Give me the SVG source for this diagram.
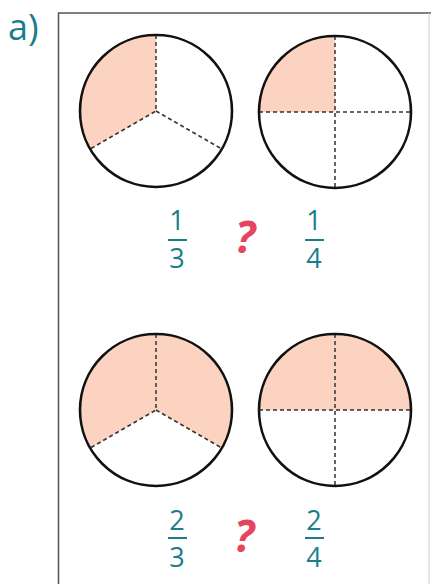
<svg xmlns="http://www.w3.org/2000/svg" width="431" height="584" viewBox="0 0 431 584">
<style>
.bg{fill:#ffffff}
.frame{fill:none;stroke:#555;stroke-width:1.5}
.frame2{fill:none;stroke:#ccc;stroke-width:1}
.shade{fill:#fcd3c1;stroke:none}
.circ{fill:none;stroke:#111;stroke-width:2.6}
.dash{fill:none;stroke:#333;stroke-width:1.5;stroke-dasharray:4 3}
.num{font-family:"Open Sans","Noto Sans",sans-serif;font-size:27px;font-weight:500;fill:#1b7d8c;text-anchor:middle}
.bar{stroke:#1b7d8c;stroke-width:2}
.q{font-family:"Open Sans","Noto Sans",sans-serif;font-size:44px;font-weight:bold;font-style:italic;fill:#e64560;text-anchor:middle}
.lab{font-family:"Open Sans","Noto Sans",sans-serif;font-size:36px;fill:#1b7d8c}
</style>
<rect class="bg" x="0" y="0" width="431" height="584"/>
<text class="lab" x="8" y="40">a)</text>
<path class="frame" d="M58.5,584 V13 H431"/>
<line class="frame2" x1="429" y1="13" x2="429" y2="584"/>

<g id="circle-1-3">
<path class="shade" d="M156,111 L156,35 A76,76 0 0 0 90.2,149 Z"/>
<path class="dash" d="M156,35 L156,111 L90.2,149 M156,111 L221.8,149"/>
<circle class="circ" cx="156" cy="111" r="76"/>
</g>
<g id="circle-1-4">
<path class="shade" d="M335,112 L335,36 A76,76 0 0 0 259,112 Z"/>
<path class="dash" d="M335,36 V188 M259,112 H411"/>
<circle class="circ" cx="335" cy="112" r="76"/>
</g>
<g id="circle-2-3">
<path class="shade" d="M156,410 L90.2,448 A76,76 0 1 1 221.8,448 Z"/>
<path class="dash" d="M156,334 L156,410 L90.2,448 M156,410 L221.8,448"/>
<circle class="circ" cx="156" cy="410" r="76"/>
</g>
<g id="circle-2-4">
<path class="shade" d="M259,410 A76,76 0 0 1 411,410 Z"/>
<path class="dash" d="M335,334 V486 M259,410 H411"/>
<circle class="circ" cx="335" cy="410" r="76"/>
</g>

<g id="frac-1-3">
<text class="num" x="177" y="230">1</text>
<line class="bar" x1="168" y1="240" x2="187" y2="240"/>
<text class="num" x="177" y="268">3</text>
</g>
<g id="q-1"><text class="q" x="245" y="253">?</text></g>
<g id="frac-1-4">
<text class="num" x="314" y="230">1</text>
<line class="bar" x1="305" y1="240" x2="324" y2="240"/>
<text class="num" x="314" y="268">4</text>
</g>

<g id="frac-2-3">
<text class="num" x="177" y="530">2</text>
<line class="bar" x1="168" y1="538" x2="187" y2="538"/>
<text class="num" x="177" y="567">3</text>
</g>
<g id="q-2"><text class="q" x="244" y="552">?</text></g>
<g id="frac-2-4">
<text class="num" x="314" y="530">2</text>
<line class="bar" x1="305" y1="538" x2="324" y2="538"/>
<text class="num" x="314" y="567">4</text>
</g>
</svg>
